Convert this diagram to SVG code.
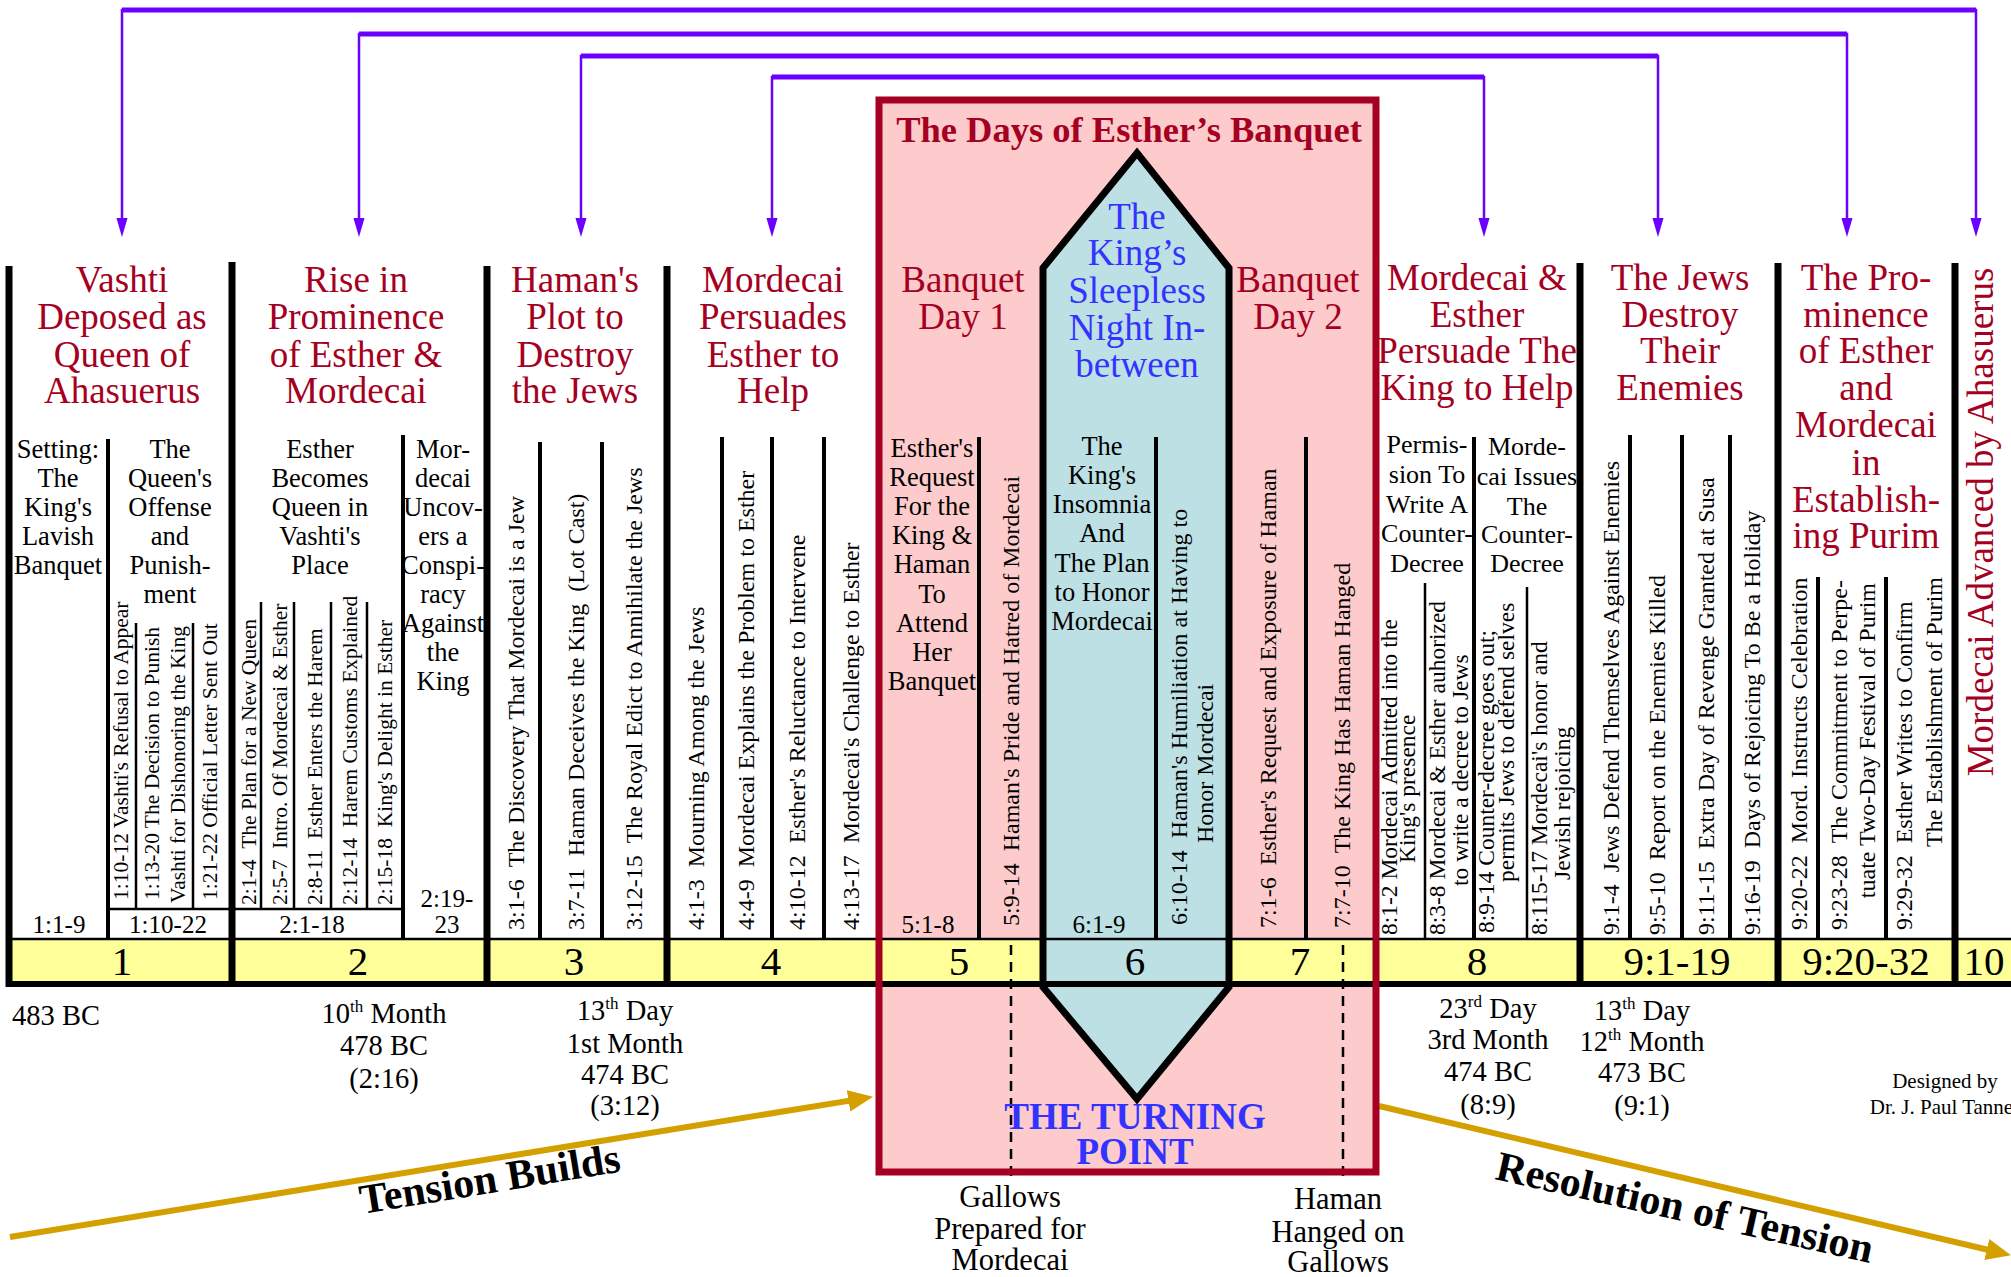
<svg xmlns="http://www.w3.org/2000/svg" width="2011" height="1277" viewBox="0 0 2011 1277">
<defs>
<style>
text{font-family:"Liberation Serif","Times New Roman",serif;fill:#000}
.ti{fill:#A50021;font-size:37px;text-anchor:middle}
.bl{fill:#3333FF}
.sb{font-size:26.5px;text-anchor:middle}
.rf{font-size:25px;text-anchor:middle}
.v{font-size:24px}
.vs{font-size:21.5px}
.nm{font-size:41px;text-anchor:middle}
.dt{font-size:28.5px;text-anchor:middle}
.bar{stroke:#000;stroke-width:7}
.ln{stroke:#000;stroke-width:4}
.th{stroke:#000;stroke-width:2.5}
.pp{fill:none;stroke:#6C00FF;stroke-width:2.5}
.ph{stroke:#6C00FF;stroke-width:5}
.gd{stroke:#D4A000;stroke-width:6}
.ds{stroke:#000;stroke-width:2.5;stroke-dasharray:10 7}
</style>
<marker id="pa" markerUnits="userSpaceOnUse" markerWidth="20" markerHeight="14" viewBox="0 -6 18 12" refX="8" refY="0" orient="auto-start-reverse"><path d="M0,-5 L17,0 L0,5 z" fill="#6C00FF"/></marker>
<marker id="ga" markerUnits="userSpaceOnUse" markerWidth="26" markerHeight="24" viewBox="0 -11 24 22" refX="10" refY="0" orient="auto"><path d="M0,-10 L23,0 L0,10 z" fill="#D4A000"/></marker>
</defs>
<rect width="2011" height="1277" fill="#fff"/>

<g id="banquet-box-fill"><rect x="879" y="100" width="497" height="1072" fill="#FDCBCB"/></g>
<g id="band"><rect x="9" y="939" width="2002" height="45" fill="#FFFF99"/></g>
<g id="hexagon"><polygon points="1137,153 1229,268 1229,987 1137,1099 1043,987 1043,268" fill="#BCE0E4" stroke="#000" stroke-width="7"/></g>
<g id="band-lines">
<line x1="9" y1="939" x2="2011" y2="939" stroke="#000" stroke-width="2.5"/>
<line x1="6" y1="984" x2="2011" y2="984" stroke="#000" stroke-width="6"/>
</g>

<g id="connectors">
<path class="pp" d="M122,227 V10 H1976 V227" marker-start="url(#pa)" marker-end="url(#pa)"/>
<line class="ph" x1="122" y1="10" x2="1976" y2="10"/>
<path class="pp" d="M359,227 V34 H1847 V227" marker-start="url(#pa)" marker-end="url(#pa)"/>
<line class="ph" x1="359" y1="34" x2="1847" y2="34"/>
<path class="pp" d="M581,227 V56 H1658 V227" marker-start="url(#pa)" marker-end="url(#pa)"/>
<line class="ph" x1="581" y1="56" x2="1658" y2="56"/>
<path class="pp" d="M772,227 V77 H1484 V227" marker-start="url(#pa)" marker-end="url(#pa)"/>
<line class="ph" x1="772" y1="77" x2="1484" y2="77"/>
<line class="gd" x1="10" y1="1237" x2="859.2" y2="1099.1" marker-end="url(#ga)"/>
<line class="gd" x1="1379" y1="1106" x2="1997.3" y2="1252" marker-end="url(#ga)"/>
<line class="ds" x1="1011" y1="945" x2="1011" y2="1183"/>
<line class="ds" x1="1343" y1="945" x2="1343" y2="1182"/>
</g>

<g id="col1">
<line class="bar" x1="9" y1="266" x2="9" y2="987"/>
<line class="ln" x1="108" y1="439" x2="108" y2="939"/>
<line class="th" x1="108" y1="909" x2="232" y2="909"/>
<line class="th" x1="136" y1="623" x2="136" y2="909"/>
<line class="th" x1="193" y1="623" x2="193" y2="909"/>
<text class="ti"><tspan x="122" y="292">Vashti</tspan><tspan x="122" y="329">Deposed as</tspan><tspan x="122" y="367">Queen of</tspan><tspan x="122" y="403">Ahasuerus</tspan></text>
<text class="sb"><tspan x="58" y="458">Setting:</tspan><tspan x="58" y="487">The</tspan><tspan x="58" y="516">King's</tspan><tspan x="58" y="545">Lavish</tspan><tspan x="58" y="574">Banquet</tspan></text>
<text class="sb"><tspan x="170" y="458">The</tspan><tspan x="170" y="487">Queen's</tspan><tspan x="170" y="516">Offense</tspan><tspan x="170" y="545">and</tspan><tspan x="170" y="574">Punish-</tspan><tspan x="170" y="603">ment</tspan></text>
<text class="vs" transform="translate(128 900) rotate(-90)">1:10-12 Vashti's Refusal to Appear</text>
<text class="vs" transform="translate(159 900) rotate(-90)">1:13-20 The Decision to Punish</text>
<text class="vs" transform="translate(185 903) rotate(-90)">Vashti for Dishonoring the King</text>
<text class="vs" transform="translate(217 900) rotate(-90)">1:21-22 Official Letter Sent Out</text>
<text class="rf" x="59" y="933">1:1-9</text>
<text class="rf" x="168" y="933">1:10-22</text>
<text class="nm" x="122" y="975">1</text>
</g>

<g id="col2">
<line class="bar" x1="232" y1="262" x2="232" y2="987"/>
<line class="ln" x1="403" y1="435" x2="403" y2="939"/>
<line class="th" x1="232" y1="909" x2="403" y2="909"/>
<line class="th" x1="261" y1="602" x2="261" y2="909"/>
<line class="th" x1="294" y1="602" x2="294" y2="909"/>
<line class="th" x1="331" y1="602" x2="331" y2="909"/>
<line class="th" x1="367" y1="602" x2="367" y2="909"/>
<text class="ti"><tspan x="356" y="292">Rise in</tspan><tspan x="356" y="329">Prominence</tspan><tspan x="356" y="367">of Esther &amp;</tspan><tspan x="356" y="403">Mordecai</tspan></text>
<text class="sb"><tspan x="320" y="458">Esther</tspan><tspan x="320" y="487">Becomes</tspan><tspan x="320" y="516">Queen in</tspan><tspan x="320" y="545">Vashti's</tspan><tspan x="320" y="574">Place</tspan></text>
<text class="sb"><tspan x="443" y="458">Mor-</tspan><tspan x="443" y="487">decai</tspan><tspan x="443" y="516">Uncov-</tspan><tspan x="443" y="545">ers a</tspan><tspan x="443" y="574">Conspi-</tspan><tspan x="443" y="603">racy</tspan><tspan x="443" y="632">Against</tspan><tspan x="443" y="661">the</tspan><tspan x="443" y="690">King</tspan></text>
<text class="vs" transform="translate(256 905) rotate(-90)">2:1-4 &#160;The Plan for a New Queen</text>
<text class="vs" transform="translate(287 905) rotate(-90)">2:5-7 &#160;Intro. Of Mordecai &amp; Esther</text>
<text class="vs" transform="translate(322 905) rotate(-90)">2:8-11 &#160;Esther Enters the Harem</text>
<text class="vs" transform="translate(357 905) rotate(-90)">2:12-14 &#160;Harem Customs Explained</text>
<text class="vs" transform="translate(392 905) rotate(-90)">2:15-18 &#160;King's Delight in Esther</text>
<text class="rf" x="312" y="933">2:1-18</text>
<text class="rf"><tspan x="447" y="907">2:19-</tspan><tspan x="447" y="933">23</tspan></text>
<text class="nm" x="358" y="975">2</text>
</g>

<g id="col3">
<line class="bar" x1="487" y1="266" x2="487" y2="987"/>
<line class="ln" x1="540" y1="442" x2="540" y2="939"/>
<line class="ln" x1="602" y1="442" x2="602" y2="939"/>
<text class="ti"><tspan x="575" y="292">Haman's</tspan><tspan x="575" y="329">Plot to</tspan><tspan x="575" y="367">Destroy</tspan><tspan x="575" y="403">the Jews</tspan></text>
<text class="v" transform="translate(524 930) rotate(-90)">3:1-6 &#160;The Discovery That Mordecai is a Jew</text>
<text class="v" transform="translate(584 930) rotate(-90)">3:7-11 &#160;Haman Deceives the King &#160;(Lot Cast)</text>
<text class="v" transform="translate(642 930) rotate(-90)">3:12-15 &#160;The Royal Edict to Annihilate the Jews</text>
<text class="nm" x="574" y="975">3</text>
</g>

<g id="col4">
<line class="bar" x1="667" y1="266" x2="667" y2="987"/>
<line class="ln" x1="722" y1="437" x2="722" y2="939"/>
<line class="ln" x1="772" y1="437" x2="772" y2="939"/>
<line class="ln" x1="824" y1="437" x2="824" y2="939"/>
<text class="ti"><tspan x="773" y="292">Mordecai</tspan><tspan x="773" y="329">Persuades</tspan><tspan x="773" y="367">Esther to</tspan><tspan x="773" y="403">Help</tspan></text>
<text class="v" transform="translate(704 930) rotate(-90)">4:1-3 &#160;Mourning Among the Jews</text>
<text class="v" transform="translate(754 930) rotate(-90)">4:4-9 &#160;Mordecai Explains the Problem to Esther</text>
<text class="v" transform="translate(805 930) rotate(-90)">4:10-12 &#160;Esther's Reluctance to Intervene</text>
<text class="v" transform="translate(859 930) rotate(-90)">4:13-17 &#160;Mordecai's Challenge to Esther</text>
<text class="nm" x="771" y="975">4</text>
</g>

<g id="banquet-box">
<rect x="879" y="100" width="497" height="1072" fill="none" stroke="#A50021" stroke-width="7"/>
<text x="1129" y="142" font-size="36.5" font-weight="bold" text-anchor="middle" style="fill:#A50021">The Days of Esther’s Banquet</text>
<text x="1135" y="1129" font-size="37" font-weight="bold" text-anchor="middle" class="bl">THE TURNING</text>
<text x="1135" y="1164" font-size="37" font-weight="bold" text-anchor="middle" class="bl">POINT</text>
</g>

<g id="col5">
<line class="ln" x1="979" y1="437" x2="979" y2="939"/>
<text class="ti"><tspan x="963" y="292">Banquet</tspan><tspan x="963" y="329">Day 1</tspan></text>
<text class="sb"><tspan x="932" y="457">Esther's</tspan><tspan x="932" y="486">Request</tspan><tspan x="932" y="515">For the</tspan><tspan x="932" y="544">King &amp;</tspan><tspan x="932" y="573">Haman</tspan><tspan x="932" y="603">To</tspan><tspan x="932" y="632">Attend</tspan><tspan x="932" y="661">Her</tspan><tspan x="932" y="690">Banquet</tspan></text>
<text class="v" transform="translate(1019 926) rotate(-90)">5:9-14 &#160;Haman's Pride and Hatred of Mordecai</text>
<text class="rf" x="928" y="933">5:1-8</text>
<text class="nm" x="959" y="975">5</text>
</g>

<g id="col6">
<line class="ln" x1="1156" y1="437" x2="1156" y2="939"/>
<text class="ti bl"><tspan x="1137" y="229">The</tspan><tspan x="1137" y="265">King’s</tspan><tspan x="1137" y="303">Sleepless</tspan><tspan x="1137" y="340">Night In-</tspan><tspan x="1137" y="377">between</tspan></text>
<text class="sb"><tspan x="1102" y="455">The</tspan><tspan x="1102" y="484">King's</tspan><tspan x="1102" y="513">Insomnia</tspan><tspan x="1102" y="542">And</tspan><tspan x="1102" y="572">The Plan</tspan><tspan x="1102" y="601">to Honor</tspan><tspan x="1102" y="630">Mordecai</tspan></text>
<text class="v" transform="translate(1187 925) rotate(-90)">6:10-14 &#160;Haman's Humiliation at Having to</text>
<text class="v" transform="translate(1213 843) rotate(-90)">Honor Mordecai</text>
<text class="rf" x="1099" y="933">6:1-9</text>
<text class="nm" x="1135" y="975">6</text>
</g>

<g id="col7">
<line class="ln" x1="1306" y1="437" x2="1306" y2="939"/>
<text class="ti"><tspan x="1298" y="292">Banquet</tspan><tspan x="1298" y="329">Day 2</tspan></text>
<text class="v" transform="translate(1276 928) rotate(-90)">7:1-6 &#160;Esther's Request and Exposure of Haman</text>
<text class="v" transform="translate(1350 928) rotate(-90)">7:7-10 &#160;The King Has Haman Hanged</text>
<text class="nm" x="1300" y="975">7</text>
</g>

<g id="col8">
<line class="ln" x1="1474" y1="437" x2="1474" y2="939"/>
<line class="th" x1="1425" y1="583" x2="1425" y2="939" stroke-width="3"/>
<line class="th" x1="1527" y1="587" x2="1527" y2="939" stroke-width="3"/>
<text class="ti"><tspan x="1477" y="290">Mordecai &amp;</tspan><tspan x="1477" y="327">Esther</tspan><tspan x="1477" y="363">Persuade The</tspan><tspan x="1477" y="400">King to Help</tspan></text>
<text class="sb" style="font-size:26px"><tspan x="1427" y="453">Permis-</tspan><tspan x="1427" y="483">sion To</tspan><tspan x="1427" y="513">Write A</tspan><tspan x="1427" y="542">Counter-</tspan><tspan x="1427" y="572">Decree</tspan></text>
<text class="sb" style="font-size:26px"><tspan x="1527" y="455">Morde-</tspan><tspan x="1527" y="485">cai Issues</tspan><tspan x="1527" y="515">The</tspan><tspan x="1527" y="543">Counter-</tspan><tspan x="1527" y="572">Decree</tspan></text>
<text class="v" style="font-size:23.5px" transform="translate(1397 935) rotate(-90)">8:1-2 Mordecai Admitted into the</text>
<text class="v" style="font-size:23.5px" transform="translate(1415 863) rotate(-90)">King's presence</text>
<text class="v" style="font-size:23.5px" transform="translate(1445 935) rotate(-90)">8:3-8 Mordecai &amp; Esther auhorized</text>
<text class="v" style="font-size:23.5px" transform="translate(1468 886) rotate(-90)">to write a decree to Jews</text>
<text class="v" style="font-size:23.5px" transform="translate(1494 933) rotate(-90)">8:9-14 Counter-decree goes out;</text>
<text class="v" style="font-size:23.5px" transform="translate(1514 882) rotate(-90)">permits Jews to defend selves</text>
<text class="v" style="font-size:23.5px" transform="translate(1547 935) rotate(-90)">8:115-17 Mordecai's honor and</text>
<text class="v" style="font-size:23.5px" transform="translate(1570 880) rotate(-90)">Jewish rejoicing</text>
<text class="nm" x="1477" y="975">8</text>
</g>

<g id="col9a">
<line class="bar" x1="1580" y1="263" x2="1580" y2="987"/>
<line class="ln" x1="1630" y1="435" x2="1630" y2="939"/>
<line class="ln" x1="1682" y1="435" x2="1682" y2="939"/>
<line class="ln" x1="1730" y1="435" x2="1730" y2="939"/>
<text class="ti"><tspan x="1680" y="290">The Jews</tspan><tspan x="1680" y="327">Destroy</tspan><tspan x="1680" y="363">Their</tspan><tspan x="1680" y="400">Enemies</tspan></text>
<text class="v" transform="translate(1619 935) rotate(-90)">9:1-4 &#160;Jews Defend Themselves Against Enemies</text>
<text class="v" transform="translate(1665 935) rotate(-90)">9:5-10 &#160;Report on the Enemies Killed</text>
<text class="v" transform="translate(1714 935) rotate(-90)">9:11-15 &#160;Extra Day of Revenge Granted at Susa</text>
<text class="v" transform="translate(1760 935) rotate(-90)">9:16-19 &#160;Days of Rejoicing To Be a Holiday</text>
<text class="nm" x="1677" y="975">9:1-19</text>
</g>

<g id="col9b">
<line class="bar" x1="1778" y1="263" x2="1778" y2="987"/>
<line class="ln" x1="1818" y1="577" x2="1818" y2="939"/>
<line class="ln" x1="1886" y1="577" x2="1886" y2="939"/>
<text class="ti"><tspan x="1866" y="290">The Pro-</tspan><tspan x="1866" y="327">minence</tspan><tspan x="1866" y="363">of Esther</tspan><tspan x="1866" y="400">and</tspan><tspan x="1866" y="437">Mordecai</tspan><tspan x="1866" y="475">in</tspan><tspan x="1866" y="512">Establish-</tspan><tspan x="1866" y="548">ing Purim</tspan></text>
<text class="v" transform="translate(1807 930) rotate(-90)">9:20-22 &#160;Mord. Instructs Celebration</text>
<text class="v" transform="translate(1847 930) rotate(-90)">9:23-28 &#160;The Commitment to Perpe-</text>
<text class="v" text-anchor="end" transform="translate(1875 583) rotate(-90)">tuate Two-Day Festival of Purim</text>
<text class="v" transform="translate(1912 930) rotate(-90)">9:29-32 &#160;Esther Writes to Confirm</text>
<text class="v" text-anchor="end" transform="translate(1942 577) rotate(-90)">The Establishment of Purim</text>
<text class="nm" x="1866" y="975">9:20-32</text>
</g>

<g id="col10">
<line class="bar" x1="1955" y1="263" x2="1955" y2="987"/>
<text class="ti" text-anchor="middle" transform="translate(1993 522) rotate(-90)">Mordecai Advanced by Ahasuerus</text>
<text class="nm" x="1984" y="975">10</text>
</g>

<g id="dates">
<text x="12" y="1025" style="font-size:28.5px">483 BC</text>
<text class="dt"><tspan x="384" y="1023">10<tspan font-size="17" dy="-11">th</tspan><tspan dy="11"> Month</tspan></tspan><tspan x="384" y="1055">478 BC</tspan><tspan x="384" y="1088">(2:16)</tspan></text>
<text class="dt"><tspan x="625" y="1020">13<tspan font-size="17" dy="-11">th</tspan><tspan dy="11"> Day</tspan></tspan><tspan x="625" y="1053">1st Month</tspan><tspan x="625" y="1084">474 BC</tspan><tspan x="625" y="1115">(3:12)</tspan></text>
<text class="dt"><tspan x="1488" y="1018">23<tspan font-size="17" dy="-11">rd</tspan><tspan dy="11"> Day</tspan></tspan><tspan x="1488" y="1049">3rd Month</tspan><tspan x="1488" y="1081">474 BC</tspan><tspan x="1488" y="1114">(8:9)</tspan></text>
<text class="dt"><tspan x="1642" y="1020">13<tspan font-size="17" dy="-11">th</tspan><tspan dy="11"> Day</tspan></tspan><tspan x="1642" y="1051">12<tspan font-size="17" dy="-11">th</tspan><tspan dy="11"> Month</tspan></tspan><tspan x="1642" y="1082">473 BC</tspan><tspan x="1642" y="1115">(9:1)</tspan></text>
<text style="font-size:21px;text-anchor:middle"><tspan x="1945" y="1088">Designed by</tspan><tspan x="1945" y="1114">Dr. J. Paul Tanner</tspan></text>
</g>

<g id="annotations">
<text style="font-size:30.5px;text-anchor:middle"><tspan x="1010" y="1207">Gallows</tspan><tspan x="1010" y="1239">Prepared for</tspan><tspan x="1010" y="1270">Mordecai</tspan></text>
<text style="font-size:30.5px;text-anchor:middle"><tspan x="1338" y="1209">Haman</tspan><tspan x="1338" y="1242">Hanged on</tspan><tspan x="1338" y="1272">Gallows</tspan></text>
<text font-size="42" font-weight="bold" transform="translate(362 1214) rotate(-9.3)">Tension Builds</text>
<text font-size="42" font-weight="bold" transform="translate(1494 1179) rotate(12.6)">Resolution of Tension</text>
</g>
</svg>
